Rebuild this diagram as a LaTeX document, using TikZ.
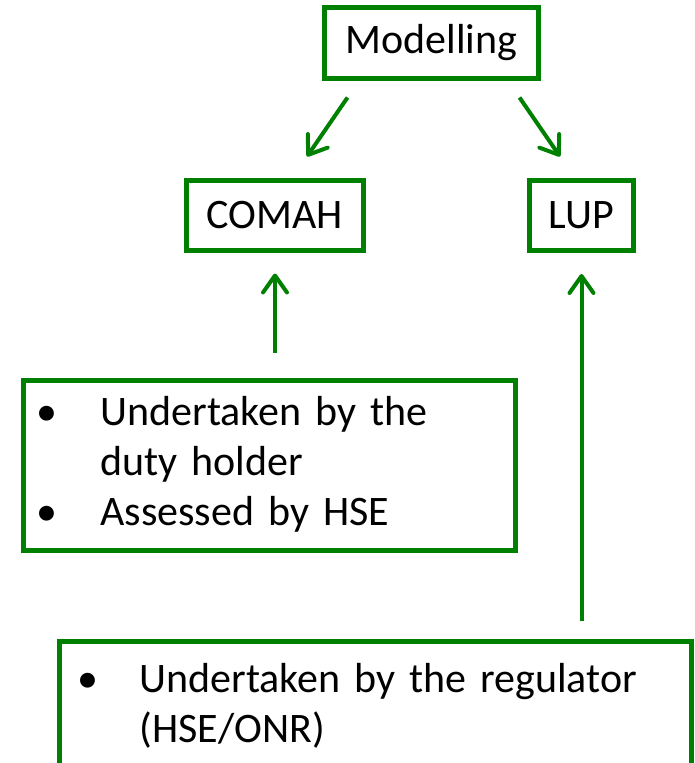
\documentclass[tikz,border=0pt]{standalone}
\usepackage{fontspec}
\setmainfont{Carlito}
\usetikzlibrary{arrows.meta,calc}
\definecolor{pgreen}{RGB}{0,128,0}
\tikzset{
  gbox/.style={draw=pgreen, line width=5pt, inner sep=0pt, font=\fontsize{42}{50}\selectfont, text=black},
  garrow/.style={draw=pgreen, line width=4pt, -{Straight Barb[length=17pt,width=24pt,round]}}
}
\begin{document}
\begin{tikzpicture}[x=1pt,y=-1pt]
\useasboundingbox (0,0) rectangle (694,763);
\clip (0,0) rectangle (694,763);
\node[gbox, minimum width=214, minimum height=71] (mod) at (431.5,43) {Modelling};
\node[gbox, minimum width=177, minimum height=70] (com) at (275,215.5) {COMAH};
\node[gbox, minimum width=104, minimum height=70] (lup) at (581.5,215.5) {LUP};
\node[gbox, text width=492pt, minimum height=170, align=left] (mid) at (269.5,465.5)
  {\begin{tabular}{@{\hspace{13pt}}p{64pt}@{}l@{}}\textbullet & Undertaken by the\\ & duty holder\\ \textbullet & Assessed by HSE\end{tabular}};
\node[gbox, text width=632pt, minimum height=131, align=left] (bot) at (375.5,707)
  {\begin{tabular}{@{\hspace{18pt}}p{62pt}@{}l@{}}\textbullet & Undertaken by the regulator\\ & (HSE/ONR)\end{tabular}};
\draw[garrow] ([shift={(25.5,16.5)}]mod.south west) -- ([shift={(32,-21.5)}]com.north);
\draw[garrow] ([shift={(-21.5,16.5)}]mod.south east) -- ([shift={(-21.5,-21.5)}]lup.north);
\draw[garrow] ($(mid.north -| com.south)+(0,-25.5)$) -- ($(com.south)+(0,20.5)$);
\draw[garrow] ($(bot.north -| lup.south)+(0,-18)$) -- ($(lup.south)+(0,21)$);
\end{tikzpicture}
\end{document}
